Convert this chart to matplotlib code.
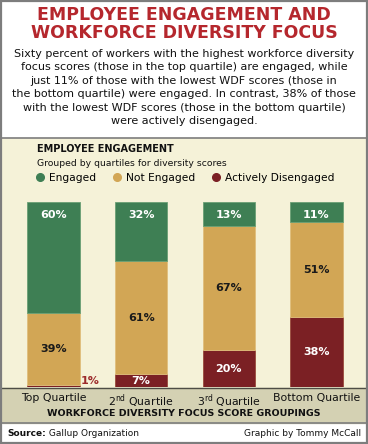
import matplotlib.pyplot as plt
from matplotlib.patches import Rectangle
from matplotlib.lines import Line2D

# canvas size in pixels
W, H = 368, 444

# data
groups = ["Top Quartile", r"2$^{\mathregular{nd}}$ Quartile",
          r"3$^{\mathregular{rd}}$ Quartile", "Bottom Quartile"]
engaged = [60, 32, 13, 11]
not_engaged = [39, 61, 67, 51]
disengaged = [1, 7, 20, 38]
series = ["Engaged", "Not Engaged", "Actively Disengaged"]

title = "EMPLOYEE ENGAGEMENT AND\nWORKFORCE DIVERSITY FOCUS"
body = ("Sixty percent of workers with the highest workforce diversity\n"
        "focus scores (those in the top quartile) are engaged, while\n"
        "just 11% of those with the lowest WDF scores (those in\n"
        "the bottom quartile) were engaged. In contrast, 38% of those\n"
        "with the lowest WDF scores (those in the bottom quartile)\n"
        "were actively disengaged.")

GREEN = "#3e7f54"
TAN = "#d2a655"
RED = "#7b2024"
BG = "#f5f2d8"
BAND = "#d4d1b3"
TITLE_RED = "#b5272d"
BORDER = "#7d7d7d"


def fx(x):
    return x / W


def fy(y):
    return 1 - y / H


fig = plt.figure(figsize=(W / 100, H / 100), dpi=100)
fig.patch.set_facecolor("white")

# background panels (kept below the axes)
fig.patches.append(Rectangle((fx(2), fy(387)), fx(364), (387 - 138) / H,
                             transform=fig.transFigure, color=BG, zorder=-2))
fig.patches.append(Rectangle((fx(2), fy(423)), fx(364), (423 - 388) / H,
                             transform=fig.transFigure, color=BAND, zorder=-2))
for y in (138, 423):
    fig.add_artist(Line2D([fx(2), fx(366)], [fy(y), fy(y)], color=BORDER, lw=1.2, zorder=-1))
fig.add_artist(Line2D([fx(2), fx(366)], [fy(387.5), fy(387.5)], color="#4d4d45",
                      lw=1.0, zorder=3))
fig.patches.append(Rectangle((fx(1), fy(443)), fx(366), 442 / H, transform=fig.transFigure,
                             fill=False, edgecolor=BORDER, lw=1.6, zorder=5))

# header
fig.text(0.5, fy(24), title, ha="center", va="center", fontsize=12.5,
         fontweight="bold", color=TITLE_RED, linespacing=1.0)
fig.text(0.5, fy(87.5), body, ha="center", va="center", fontsize=8,
         color="#111111", linespacing=1.42)

fig.text(fx(37), fy(149), "EMPLOYEE ENGAGEMENT", ha="left", va="center",
         fontsize=7, fontweight="bold", color="#111111")
fig.text(fx(37), fy(163), "Grouped by quartiles for diversity scores", ha="left",
         va="center", fontsize=6.7, color="#111111")

handles = [Line2D([], [], marker="o", ls="", color=c, markersize=5.5)
           for c in (GREEN, TAN, RED)]
fig.legend(handles, series, loc="center left", bbox_to_anchor=(fx(36), fy(178)),
           ncol=3, frameon=False, handlelength=0.7, handletextpad=0.5,
           columnspacing=1.6, fontsize=7.7, borderpad=0, borderaxespad=0)

# bars
ax = fig.add_axes([fx(9.7), fy(387), fx(350.6), 185 / H], zorder=2)
ax.set_facecolor("none")
x = list(range(len(groups)))
mid = [d + n for d, n in zip(disengaged, not_engaged)]
ax.bar(x, disengaged, width=0.6, color=RED, edgecolor="#9a4a3c", lw=0.6)
ax.bar(x, not_engaged, width=0.6, bottom=disengaged, color=TAN, edgecolor="#e0bf7c", lw=0.6)
ax.bar(x, engaged, width=0.6, bottom=mid, color=GREEN, edgecolor="#6a9f74", lw=0.6)
ax.set_xlim(-0.5, 3.5)
ax.set_ylim(0, 100)

for i in x:
    ax.text(i, 93, f"{engaged[i]}%", ha="center", va="center", fontsize=8,
            fontweight="bold", color="white")
    ax.text(i, disengaged[i] + not_engaged[i] / 2, f"{not_engaged[i]}%", ha="center",
            va="center", fontsize=8, fontweight="bold", color="#1a1a1a")
    if disengaged[i] < 3:
        ax.text(i + 0.31, 3.3, f"{disengaged[i]}%", ha="left", va="center",
                fontsize=8, fontweight="bold", color="#9c2b2b")
    else:
        ax.text(i, max(disengaged[i] / 2, 3.3), f"{disengaged[i]}%", ha="center",
                va="center", fontsize=8, fontweight="bold", color="white")

ax.set_yticks([])
ax.set_xticks(x, groups, fontsize=7.8, color="#111111")
ax.tick_params(axis="x", length=0, pad=4)
for s in ax.spines.values():
    s.set_visible(False)
ax.set_xlabel("WORKFORCE DIVERSITY FOCUS SCORE GROUPINGS", fontsize=6.8,
              fontweight="bold", color="#111111")
ax.xaxis.set_label_coords((184 - 9.7) / 350.6, -26 / 185)
ax.xaxis.label.set_va("center")

# footer
src = fig.text(fx(7), fy(433), "Source:", ha="left", va="center", fontsize=6.5,
               fontweight="bold", color="#111111")
ax.annotate(" Gallup Organization", xy=(1, 0.5), xycoords=src, ha="left",
            va="center", fontsize=6.5, color="#111111", annotation_clip=False)
fig.text(fx(361), fy(433), "Graphic by Tommy McCall", ha="right", va="center",
         fontsize=6.5, color="#111111")

fig.savefig("out.png", dpi=100)
